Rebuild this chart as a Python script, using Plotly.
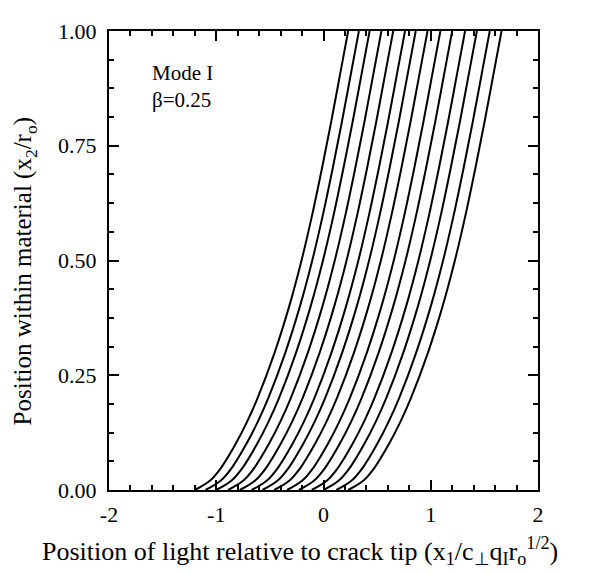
import plotly.graph_objects as go

# y levels (x2/ro) at which each curve's x position was read
y_levels = [0.0, 0.02, 0.05, 0.1, 0.15, 0.2, 0.3, 0.4, 0.5, 0.6, 0.7, 0.8, 0.9, 1.0]

# x positions (x1/c q r^1/2) of each of the 14 curves at the y levels above
curve_01 = [-1.20, -1.06, -0.95, -0.82, -0.71, -0.615, -0.455, -0.32, -0.205, -0.105, -0.015, 0.07, 0.15, 0.23]
curve_02 = [-1.10, -0.96, -0.85, -0.72, -0.61, -0.515, -0.355, -0.22, -0.105, -0.005, 0.085, 0.17, 0.25, 0.33]
curve_03 = [-1.00, -0.86, -0.75, -0.62, -0.51, -0.415, -0.255, -0.12, -0.005, 0.095, 0.185, 0.27, 0.35, 0.43]
curve_04 = [-0.89, -0.75, -0.64, -0.51, -0.40, -0.305, -0.145, -0.01, 0.105, 0.205, 0.295, 0.38, 0.46, 0.54]
curve_05 = [-0.78, -0.64, -0.53, -0.40, -0.29, -0.195, -0.035, 0.10, 0.215, 0.315, 0.405, 0.49, 0.57, 0.65]
curve_06 = [-0.67, -0.53, -0.42, -0.29, -0.18, -0.085, 0.075, 0.21, 0.325, 0.425, 0.515, 0.60, 0.68, 0.76]
curve_07 = [-0.57, -0.43, -0.32, -0.19, -0.08, 0.015, 0.175, 0.31, 0.425, 0.525, 0.615, 0.70, 0.78, 0.86]
curve_08 = [-0.46, -0.32, -0.21, -0.08, 0.03, 0.125, 0.285, 0.42, 0.535, 0.635, 0.725, 0.81, 0.89, 0.97]
curve_09 = [-0.34, -0.20, -0.09, 0.04, 0.15, 0.245, 0.405, 0.54, 0.655, 0.755, 0.845, 0.93, 1.01, 1.09]
curve_10 = [-0.23, -0.09, 0.02, 0.15, 0.26, 0.355, 0.515, 0.65, 0.765, 0.865, 0.955, 1.04, 1.12, 1.20]
curve_11 = [-0.11, 0.03, 0.14, 0.27, 0.38, 0.475, 0.635, 0.77, 0.885, 0.985, 1.075, 1.16, 1.24, 1.32]
curve_12 = [0.00, 0.14, 0.25, 0.38, 0.49, 0.585, 0.745, 0.88, 0.995, 1.095, 1.185, 1.27, 1.35, 1.43]
curve_13 = [0.12, 0.26, 0.37, 0.50, 0.61, 0.705, 0.865, 1.00, 1.115, 1.215, 1.305, 1.39, 1.47, 1.55]
curve_14 = [0.23, 0.37, 0.48, 0.61, 0.72, 0.815, 0.975, 1.11, 1.225, 1.325, 1.415, 1.50, 1.58, 1.66]

curves = [curve_01, curve_02, curve_03, curve_04, curve_05, curve_06, curve_07,
          curve_08, curve_09, curve_10, curve_11, curve_12, curve_13, curve_14]

x_tick_vals = [-2, -1, 0, 1, 2]
x_tick_text = ["-2", "-1", "0", "1", "2"]
y_tick_vals = [0.0, 0.25, 0.5, 0.75, 1.0]
y_tick_text = ["0.00", "0.25", "0.50", "0.75", "1.00"]

x_title = "Position of light relative to crack tip (x<sub>1</sub>/c<sub>⊥</sub>q<sub>I</sub>r<sub>o</sub><sup>1/2</sup>)"
y_title = "Position within material (x<sub>2</sub>/r<sub>o</sub>)"
note_lines = ["Mode I", "β=0.25"]

FONT = "Liberation Serif, Times New Roman, serif"

fig = go.Figure()
for xs in curves:
    fig.add_trace(go.Scatter(
        x=xs, y=y_levels, mode="lines",
        line=dict(color="black", width=2, shape="spline", smoothing=1.0),
        showlegend=False, hoverinfo="skip",
    ))

axis_common = dict(
    showgrid=False, zeroline=False,
    showline=True, linecolor="black", linewidth=2,
    mirror="ticks", ticks="inside", ticklen=10, tickwidth=1.5, tickcolor="black",
    tickfont=dict(family=FONT, size=22, color="black"),
)

fig.update_xaxes(
    range=[-2, 2], tickvals=x_tick_vals, ticktext=x_tick_text,
    minor=dict(ticks="inside", dtick=0.2, tick0=0, ticklen=5, tickwidth=1.5, tickcolor="black"),
    ticklabelstandoff=4,
    **axis_common,
)
fig.update_yaxes(
    range=[0, 1], tickvals=y_tick_vals, ticktext=y_tick_text,
    minor=dict(ticks="inside", dtick=0.0625, tick0=0, ticklen=5, tickwidth=1.5, tickcolor="black"),
    ticklabelstandoff=6,
    **axis_common,
)

# axis titles placed as paper annotations to match the reference position
fig.add_annotation(x=0.445, y=-0.133, xref="paper", yref="paper", text=x_title,
                   showarrow=False, xanchor="center", yanchor="middle",
                   font=dict(family=FONT, size=26, color="black"))
fig.add_annotation(x=-0.196, y=0.476, xref="paper", yref="paper", text=y_title,
                   showarrow=False, xanchor="center", yanchor="middle", textangle=-90,
                   font=dict(family=FONT, size=25, color="black"))

fig.add_annotation(x=-1.618, y=0.909, xref="x", yref="y", text=note_lines[0],
                   showarrow=False, xanchor="left", yanchor="middle",
                   font=dict(family=FONT, size=21, color="black"))
fig.add_annotation(x=-1.618, y=0.85, xref="x", yref="y", text=note_lines[1],
                   showarrow=False, xanchor="left", yanchor="middle",
                   font=dict(family=FONT, size=21, color="black"))

fig.update_layout(
    width=591, height=574,
    margin=dict(l=101, r=61, t=11, b=92),
    paper_bgcolor="white", plot_bgcolor="white",
    font=dict(family=FONT, color="black"),
)

fig.write_html("out.html")
